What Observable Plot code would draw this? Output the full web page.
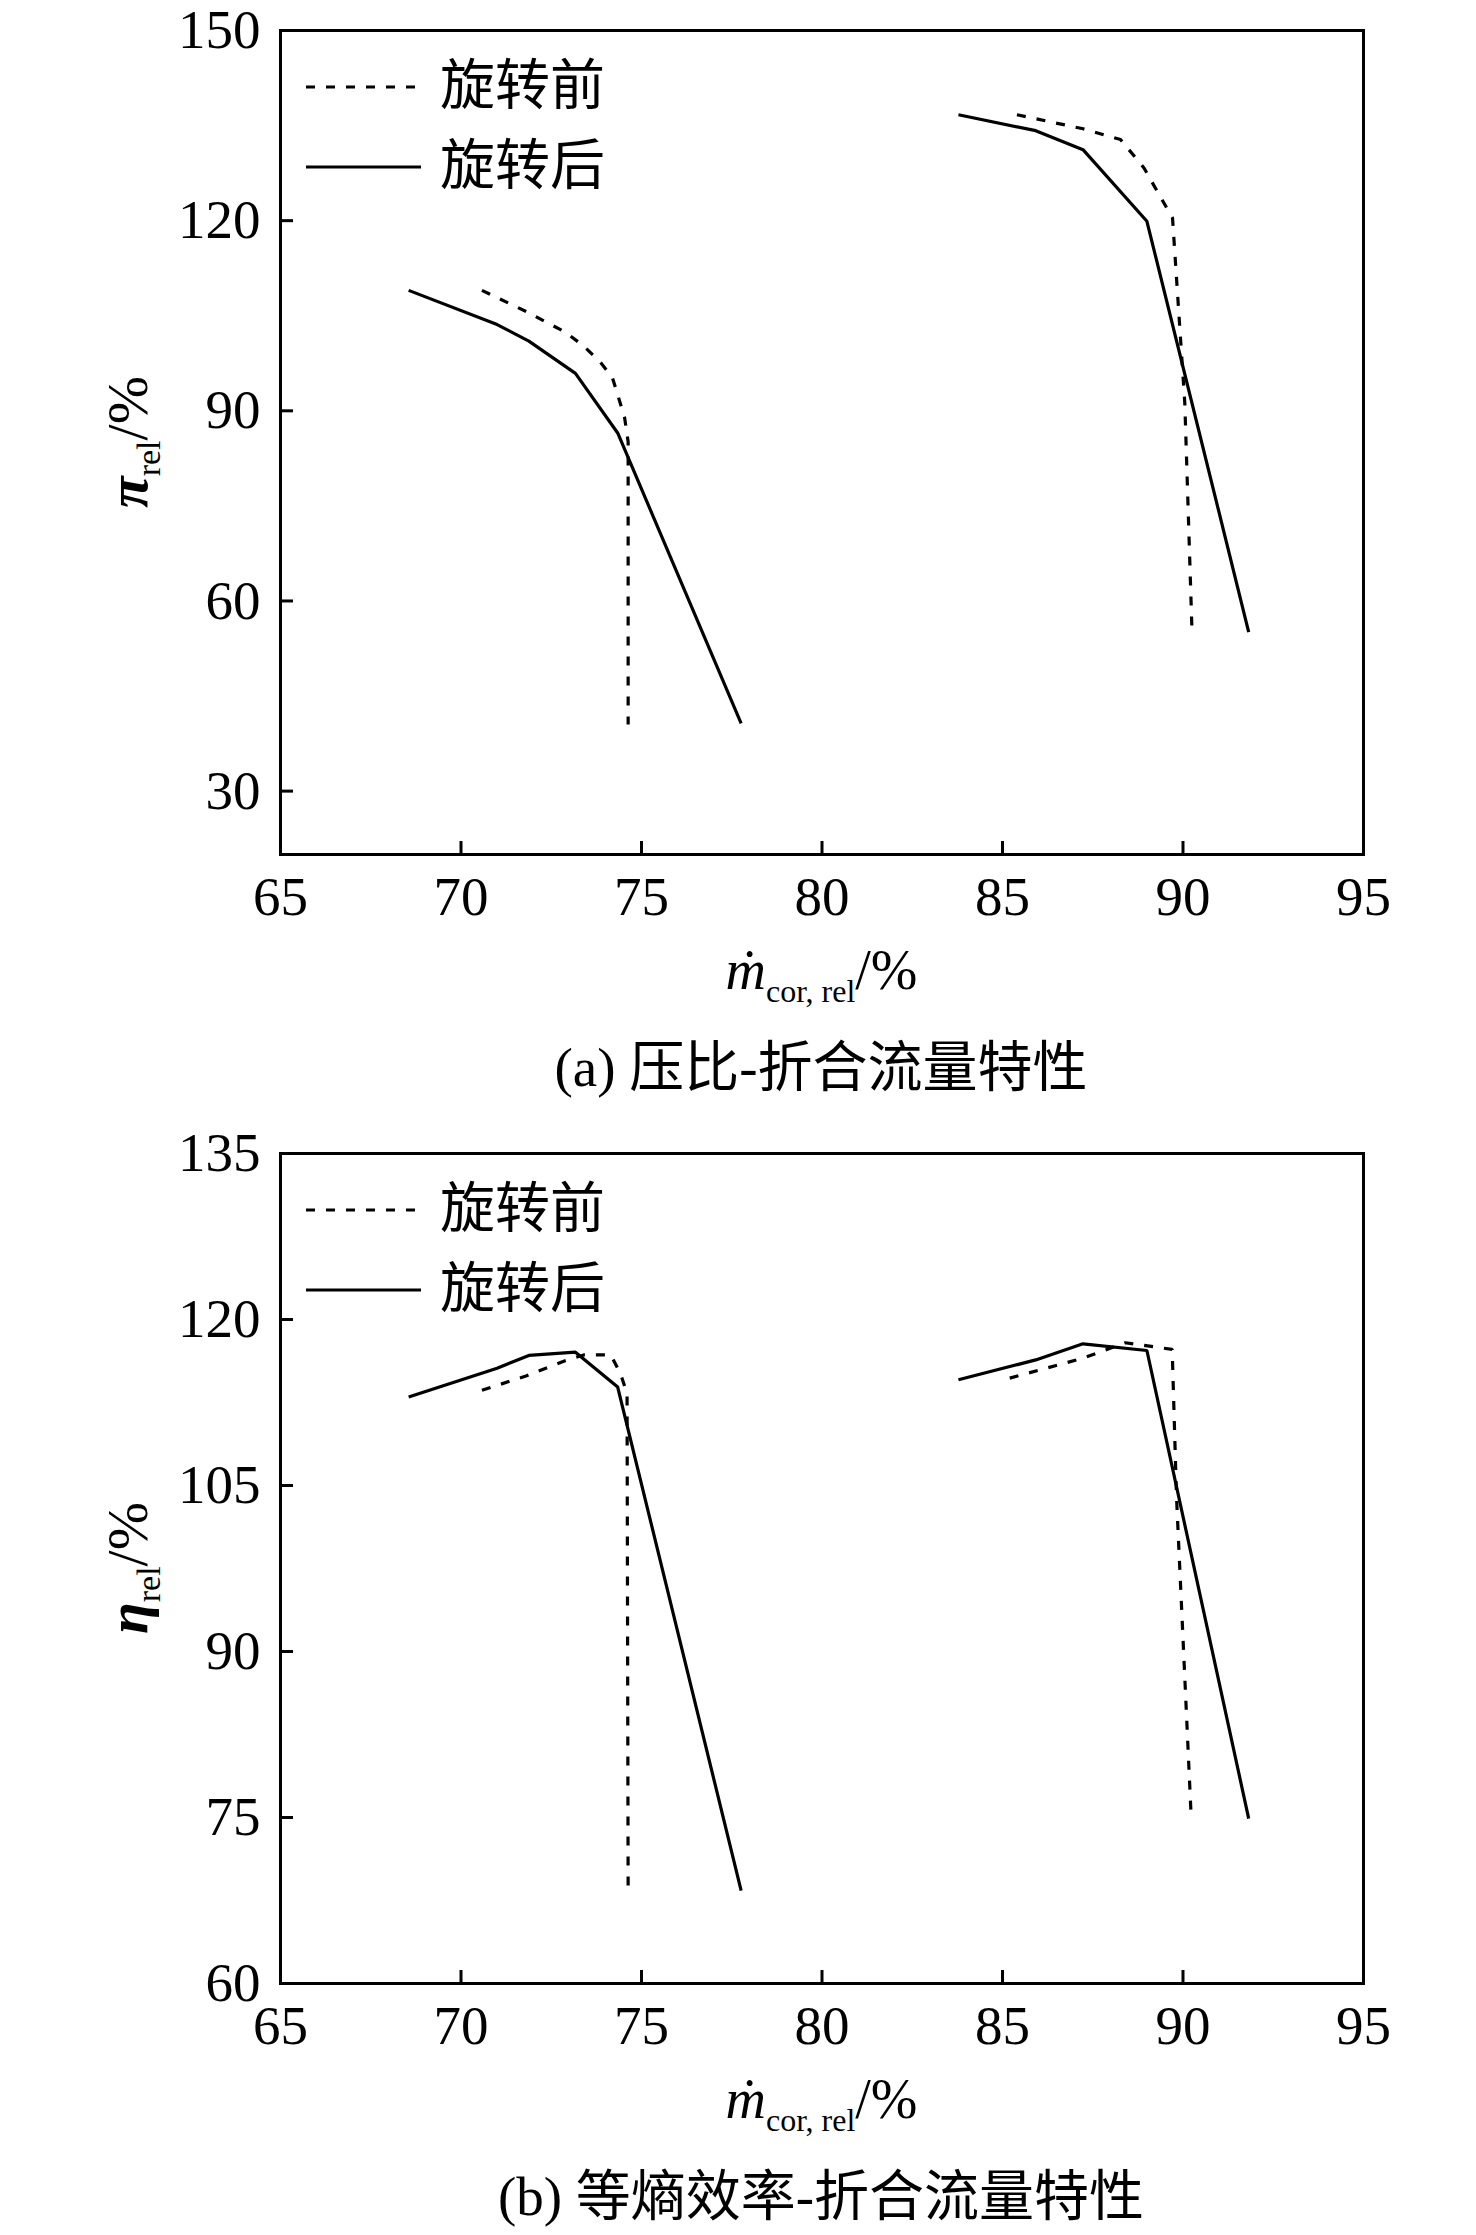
<!DOCTYPE html>
<html>
<head>
<meta charset="utf-8">
<script src="https://cdn.jsdelivr.net/npm/d3@7"></script>
<script src="https://cdn.jsdelivr.net/npm/@observablehq/plot@0.6"></script>
<style>
  html, body { margin: 0; padding: 0; background: #fff; }
  #root { position: relative; width: 1476px; height: 2235px; background: #fff; overflow: hidden; }
  .panel { position: absolute; left: 0; width: 1476px; }
  .panel svg { max-width: none !important; }
  .cap { position: absolute; left: 221px; width: 1200px; text-align: center; font-size: 55px; line-height: 55px;
         font-family: "Liberation Serif", "Noto Sans CJK SC", serif; color: #000; white-space: nowrap; }
</style>
</head>
<body>
<div id="root"></div>
<script>
// ---------- tick labels ----------
const xTicks = [65, 70, 75, 80, 85, 90, 95];
const piTicks = [30, 60, 90, 120, 150];
const etaTicks = [60, 75, 90, 105, 120, 135];

// ---------- legend / captions ----------
const seriesNames = ["旋转前", "旋转后"];
const captions = ["(a) 压比-折合流量特性", "(b) 等熵效率-折合流量特性"];

// ---------- (a) pressure ratio vs corrected mass flow ----------
const mA_beforeLow  = [70.58, 71.79, 72.89, 73.38, 73.84, 74.19, 74.53, 74.63, 74.63];
const piA_beforeLow = [109.0, 105.7, 102.4, 100.3, 97.8, 95.3, 89.0, 85.1, 40.5];
const mA_afterLow   = [68.55, 71.0, 71.88, 73.17, 74.34, 77.76];
const piA_afterLow  = [109.0, 103.6, 101.0, 95.9, 86.5, 40.7];
const mA_beforeHigh  = [85.4, 87.23, 88.27, 88.92, 89.71, 90.05, 90.25];
const piA_beforeHigh = [136.7, 134.5, 132.8, 128.3, 120.4, 91.2, 55.1];
const mA_afterHigh   = [83.78, 85.92, 87.23, 89.0, 91.82];
const piA_afterHigh  = [136.7, 134.2, 131.2, 119.9, 55.1];

// ---------- (b) isentropic efficiency vs corrected mass flow ----------
const mB_beforeLow   = [70.58, 71.8, 72.9, 73.4, 74.15, 74.42, 74.6, 74.63];
const etaB_beforeLow = [113.6, 114.9, 116.3, 116.8, 116.8, 115.1, 113.3, 68.3];
const mB_afterLow    = [68.55, 71.0, 71.88, 73.17, 74.34, 77.76];
const etaB_afterLow  = [113.0, 115.6, 116.75, 117.05, 113.9, 68.4];
const mB_beforeHigh   = [85.2, 87.23, 88.4, 89.7, 89.82, 90.23];
const etaB_beforeHigh = [114.7, 116.5, 117.9, 117.3, 104.0, 74.8];
const mB_afterHigh    = [83.78, 85.92, 87.23, 89.0, 91.82];
const etaB_afterHigh  = [114.55, 116.35, 117.8, 117.2, 74.9];

const SERIF = '"Liberation Serif", "Noto Sans CJK SC", serif';
const DASH = "9,11";

function rows(ms, vs) { return ms.map((m, i) => ({ m, v: vs[i] })); }

function makePanel({ series, yDomain, yTicks, ySymbol, height, plotH, top, capText, capTop }) {
  const root = document.getElementById("root");
  const wrap = document.createElement("div");
  wrap.className = "panel";
  wrap.style.top = top + "px";
  root.appendChild(wrap);

  const plot = Plot.plot({
    width: 1476,
    height,
    marginLeft: 280,
    marginRight: 113,
    marginTop: 30,
    marginBottom: height - 30 - plotH,
    style: { fontFamily: '"Liberation Serif", serif', fontSize: "55px", color: "#000", background: "#fff", overflow: "visible" },
    x: { domain: [65, 95], ticks: xTicks },
    y: { domain: yDomain, ticks: yTicks },
    marks: [
      ...series.map(s => Plot.line(rows(s.m, s.v), {
        x: "m", y: "v", stroke: "#000", strokeWidth: 3.2,
        strokeDasharray: s.dashed ? DASH : null, strokeLinejoin: "miter", strokeLinecap: "butt"
      })),
      Plot.frame({ stroke: "#000", strokeWidth: 3 }),
      Plot.axisX({ ticks: xTicks, tickSize: -13, tickPadding: 34, strokeWidth: 3, label: null, fontSize: 55, tickFormat: d => String(d) }),
      Plot.axisY({ ticks: yTicks, tickSize: -13, tickPadding: 33, strokeWidth: 3, label: null, fontSize: 55, tickFormat: d => String(d) })
    ]
  });
  wrap.appendChild(plot);

  const svg = d3.select(plot);
  const xr = plot.scale("x").range;
  const yr = plot.scale("y").range;
  const xc = (xr[0] + xr[1]) / 2;
  const yBottom = Math.max(yr[0], yr[1]);
  const yTop = Math.min(yr[0], yr[1]);
  const yc = (yBottom + yTop) / 2;

  // x-axis title
  const tx = svg.append("text")
    .attr("x", xc).attr("y", yBottom + 135)
    .attr("text-anchor", "middle").attr("font-family", SERIF).attr("font-size", 56).attr("fill", "#000");
  tx.append("tspan").attr("font-style", "italic").text("ṁ");
  tx.append("tspan").attr("font-size", 32).attr("dy", 13).text("cor, rel");
  tx.append("tspan").attr("dy", -13).text("/%");

  // y-axis title
  const ty = svg.append("text")
    .attr("transform", `translate(147,${yc}) rotate(-90)`)
    .attr("text-anchor", "middle").attr("font-family", SERIF).attr("font-size", 58).attr("fill", "#000");
  ty.append("tspan").attr("font-style", "italic").attr("font-weight", "bold").text(ySymbol);
  ty.append("tspan").attr("font-size", 34).attr("dy", 13).text("rel");
  ty.append("tspan").attr("dy", -13).text("/%");

  // legend (inside frame, top-left)
  const leg = svg.append("g").attr("text-anchor", "start");
  seriesNames.forEach((name, i) => {
    const ly = yTop + 57 + 80 * i;
    leg.append("line")
      .attr("x1", xr[0] + 26).attr("x2", xr[0] + 141)
      .attr("y1", ly).attr("y2", ly)
      .attr("stroke", "#000").attr("stroke-width", 3.2)
      .attr("stroke-dasharray", i === 0 ? DASH : null);
    leg.append("text")
      .attr("x", xr[0] + 160).attr("y", ly + 17)
      .attr("font-family", SERIF).attr("font-size", 55).attr("fill", "#000")
      .text(name);
  });

  const cap = document.createElement("div");
  cap.className = "cap";
  cap.style.top = capTop + "px";
  cap.textContent = capText;
  root.appendChild(cap);
}

makePanel({
  series: [
    { m: mA_beforeLow, v: piA_beforeLow, dashed: true },
    { m: mA_afterLow, v: piA_afterLow, dashed: false },
    { m: mA_beforeHigh, v: piA_beforeHigh, dashed: true },
    { m: mA_afterHigh, v: piA_afterHigh, dashed: false }
  ],
  yDomain: [20, 150], yTicks: piTicks, ySymbol: "π",
  height: 1040, plotH: 824, top: 0,
  capText: captions[0], capTop: 1040
});

makePanel({
  series: [
    { m: mB_beforeLow, v: etaB_beforeLow, dashed: true },
    { m: mB_afterLow, v: etaB_afterLow, dashed: false },
    { m: mB_beforeHigh, v: etaB_beforeHigh, dashed: true },
    { m: mB_afterHigh, v: etaB_afterHigh, dashed: false }
  ],
  yDomain: [60, 135], yTicks: etaTicks, ySymbol: "η",
  height: 1045, plotH: 830, top: 1123,
  capText: captions[1], capTop: 2169
});
</script>
</body>
</html>
